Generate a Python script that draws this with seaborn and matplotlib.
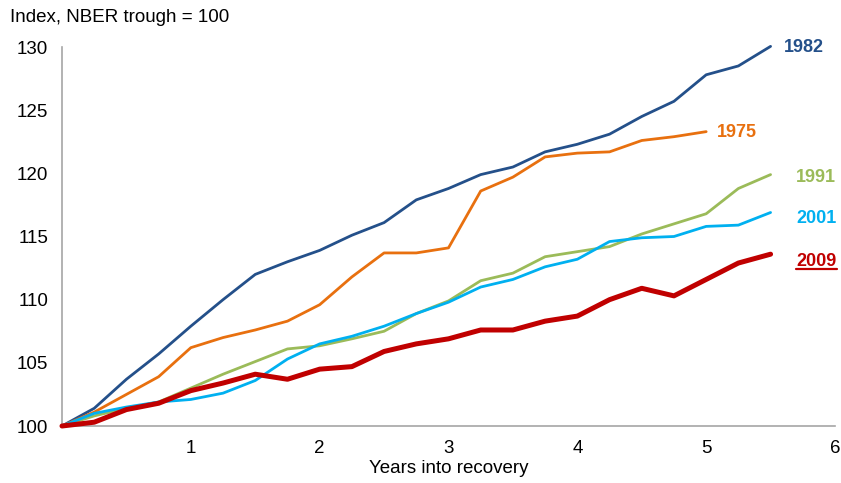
import numpy as np
import pandas as pd
import matplotlib
matplotlib.use("Agg")
import matplotlib.pyplot as plt
import seaborn as sns
from matplotlib.lines import Line2D

years = [0, 0.25, 0.5, 0.75, 1, 1.25, 1.5, 1.75, 2, 2.25, 2.5, 2.75, 3, 3.25,
         3.5, 3.75, 4, 4.25, 4.5, 4.75, 5, 5.25, 5.5]

r1982 = [100, 101.4, 103.7, 105.7, 107.9, 110.0, 112.0, 113.0, 113.9, 115.1, 116.1,
         117.9, 118.8, 119.9, 120.5, 121.7, 122.3, 123.1, 124.5, 125.7, 127.8, 128.5, 130.05]
r1975 = [100, 101.1, 102.5, 103.9, 106.2, 107.0, 107.6, 108.3, 109.6, 111.8, 113.7,
         113.7, 114.1, 118.6, 119.7, 121.3, 121.6, 121.7, 122.6, 122.9, 123.3]
r1991 = [100, 100.8, 101.4, 101.9, 103.0, 104.1, 105.1, 106.1, 106.35, 106.9, 107.5,
         108.9, 109.9, 111.5, 112.1, 113.4, 113.8, 114.2, 115.2, 116.0, 116.8, 118.8, 119.9]
r2001 = [100, 101.0, 101.5, 101.9, 102.1, 102.6, 103.6, 105.3, 106.5, 107.1, 107.9,
         108.9, 109.8, 111.0, 111.6, 112.6, 113.2, 114.6, 114.9, 115.0, 115.8, 115.9, 116.9]
r2009 = [100, 100.3, 101.3, 101.8, 102.8, 103.4, 104.1, 103.7, 104.5, 104.7, 105.9,
         106.5, 106.9, 107.6, 107.6, 108.3, 108.7, 110.0, 110.9, 110.3, 111.6, 112.9, 113.6]

series_names = ["1982", "1975", "1991", "2001", "2009"]
series_values = [r1982, r1975, r1991, r2001, r2009]
colors = {"1982": "#24508A", "1975": "#E8700F", "1991": "#9BBB59",
          "2001": "#00B0F0", "2009": "#C00000"}
widths = {"1982": 2.0, "1975": 2.0, "1991": 2.0, "2001": 2.0, "2009": 3.6}

x_ticks = [0, 1, 2, 3, 4, 5, 6]
x_tick_labels = ["", "1", "2", "3", "4", "5", "6"]
y_ticks = [100, 105, 110, 115, 120, 125, 130]

frames = []
for name, vals in zip(series_names, series_values):
    frames.append(pd.DataFrame({"year": years[:len(vals)], "value": vals, "recession": name}))
df = pd.concat(frames, ignore_index=True)

sns.set_theme(style="white")
plt.rcParams['font.family'] = ['Liberation Sans', 'DejaVu Sans']

fig = plt.figure(figsize=(8.41, 4.83), dpi=100)
ax = fig.add_axes([62/841, 57/483, (835-62)/841, (426-47)/483])

for name in series_names:
    sub = df[df["recession"] == name]
    sns.lineplot(data=sub, x="year", y="value", ax=ax, color=colors[name],
                 linewidth=widths[name], legend=False, clip_on=False,
                 zorder=5 if name == "2009" else 3)

ax.set_xlim(0, 6)
ax.set_ylim(100, 130)
ax.set_xticks(x_ticks)
ax.set_xticklabels(x_tick_labels)
ax.set_yticks(y_ticks)
ax.tick_params(axis="both", labelsize=13.5, colors="#000000", length=5, width=1,
               direction="out", pad=5)
ax.tick_params(axis="both", color="#A6A6A6")
ax.tick_params(axis="x", length=6, pad=4)
for s in ["top", "right"]:
    ax.spines[s].set_visible(False)
for s in ["left", "bottom"]:
    ax.spines[s].set_color("#A6A6A6")
    ax.spines[s].set_linewidth(1.2)

ax.set_xlabel("Years into recovery", fontsize=13.5, color="#000000", labelpad=2)
ax.set_ylabel("")
fig.text(10/841, 1 - 18/483, "Index, NBER trough = 100", fontsize=13.5,
         va="center", ha="left", color="#000000")

label_pos = {"1982": (5.6, 130.0), "1975": (5.08, 123.2), "1991": (5.7, 119.7),
             "2001": (5.7, 116.4), "2009": (5.7, 113.0)}
texts = {}
for name in series_names:
    x, y = label_pos[name]
    texts[name] = ax.text(x, y, name, color=colors[name], fontsize=13,
                          fontweight="bold", ha="left", va="center", clip_on=False)

fig.canvas.draw()
renderer = fig.canvas.get_renderer()
bb = texts["2009"].get_window_extent(renderer)
inv = fig.transFigure.inverted()
(x0, y0) = inv.transform((bb.x0, bb.y0 + 1))
(x1, _) = inv.transform((bb.x1, bb.y0 + 1))
fig.add_artist(Line2D([x0, x1], [y0, y0], transform=fig.transFigure,
                      color=colors["2009"], linewidth=1.6))

fig.savefig("out.png", dpi=100)
